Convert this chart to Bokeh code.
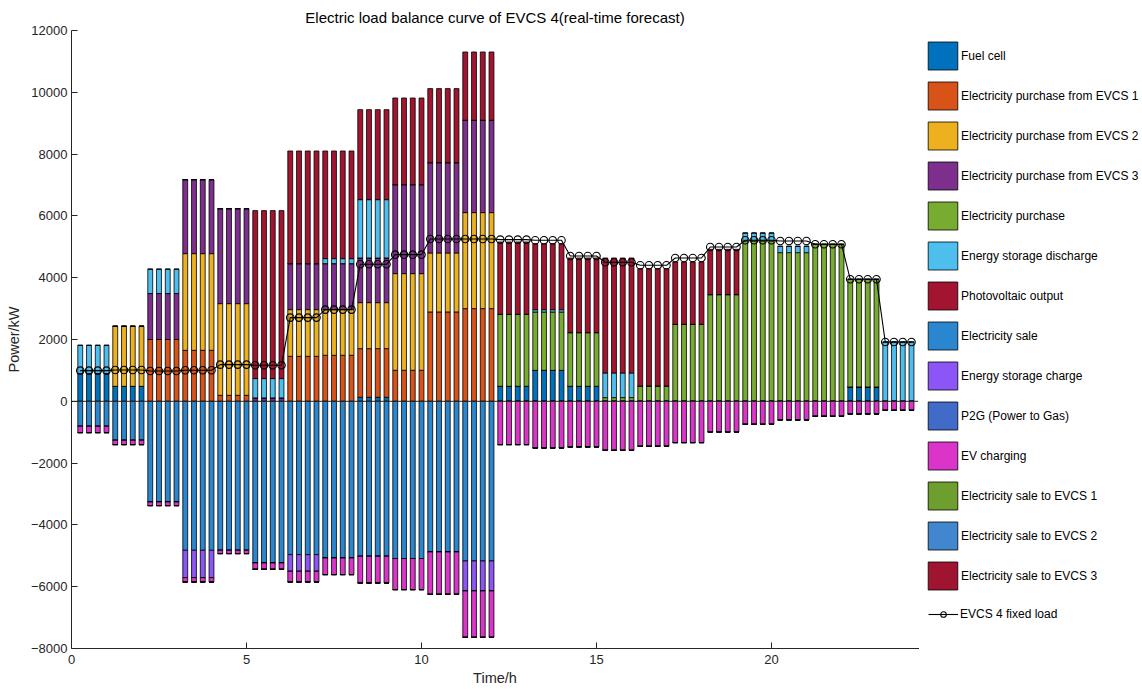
import numpy as np
from bokeh.plotting import figure
from bokeh.layouts import row
from bokeh.models import Legend, LegendItem, Span, FixedTicker, Range1d, ColumnDataSource
from bokeh.embed import file_html
from bokeh.resources import INLINE

# ---- data (hourly values; each hour is shown as 4 quarter-hour bars) ----
hours = list(range(1, 25))
fuel_cell        = [900, 485, 0, 0, 0, 0, 0, 0, 130, 0, 0, 0, 485, 1000, 485, 0, 0, 0, 0, 0, 0, 0, 463, 0]
buy_evcs1        = [0, 0, 2000, 1650, 194, 0, 1456, 1489, 1575, 1003, 2891, 3000, 0, 0, 0, 0, 0, 0, 0, 0, 0, 0, 0, 0]
buy_evcs2        = [0, 1942, 0, 3129, 2967, 0, 1511, 1478, 1488, 3129, 1909, 3106, 0, 0, 0, 0, 0, 0, 0, 0, 0, 0, 0, 0]
buy_evcs3        = [0, 0, 1488, 2395, 3074, 110, 1488, 1488, 1445, 2880, 2924, 2988, 0, 0, 0, 0, 0, 0, 0, 0, 0, 0, 0, 0]
grid_purchase    = [0, 0, 0, 0, 0, 0, 0, 0, 0, 0, 0, 0, 2331, 1888, 1737, 119, 496, 2492, 3452, 5188, 4811, 5081, 3485, 0]
storage_dis      = [912, 0, 788, 0, 0, 625, 0, 162, 1888, 0, 0, 0, 0, 76, 0, 797, 0, 0, 0, 259, 205, 0, 0, 1920]
pv_output        = [0, 0, 0, 0, 0, 5436, 3646, 3484, 2913, 2804, 2395, 2211, 2340, 2136, 2416, 3722, 3798, 2016, 1467, 0, 0, 0, 0, 0]
grid_sale        = [-809, -1262, -3258, -4822, -4822, -5232, -4961, -5071, -5016, -5088, -4876, -5168, 0, 0, 0, 0, 0, 0, 0, 0, 0, 0, 0, 0]
storage_chg      = [0, 0, 0, -884, 0, 0, -541, 0, 0, 0, 0, -970, 0, 0, 0, 0, 0, 0, 0, 0, 0, 0, 0, 0]
p2g              = [0] * 24
ev_charging      = [-205, -140, -118, -141, -107, -205, -345, -538, -863, -1007, -1370, -1500, -1402, -1510, -1477, -1586, -1456, -1337, -992, -744, -604, -485, -410, -291]
sale_evcs1       = [0] * 24
sale_evcs2       = [0] * 24
sale_evcs3       = [0] * 24
fixed_load       = [993, 1014, 981, 1003, 1187, 1165, 2708, 2967, 4434, 4746, 5253, 5253, 5232, 5210, 4703, 4500, 4401, 4638, 4994, 5210, 5188, 5081, 3948, 1920]

pos_series = [
    ("Fuel cell", "fuel", fuel_cell, "#0072BD"),
    ("Electricity purchase from EVCS 1", "ev1", buy_evcs1, "#D95319"),
    ("Electricity purchase from EVCS 2", "ev2", buy_evcs2, "#EDB120"),
    ("Electricity purchase from EVCS 3", "ev3", buy_evcs3, "#7E2F8E"),
    ("Electricity purchase", "buy", grid_purchase, "#77AC30"),
    ("Energy storage discharge", "dis", storage_dis, "#4DBEEE"),
    ("Photovoltaic output", "pv", pv_output, "#A2142F"),
]
neg_series = [
    ("Electricity sale", "sale", grid_sale, "#2A87CF"),
    ("Energy storage charge", "chg", storage_chg, "#8C55F5"),
    ("P2G (Power to Gas)", "p2g", p2g, "#406BC8"),
    ("EV charging", "evc", ev_charging, "#DA34C8"),
    ("Electricity sale to EVCS 1", "s1", sale_evcs1, "#6E9E2E"),
    ("Electricity sale to EVCS 2", "s2", sale_evcs2, "#4286CF"),
    ("Electricity sale to EVCS 3", "s3", sale_evcs3, "#9E1431"),
]

# quarter-hour time axis: each hourly value is drawn for its 4 quarter-hours
t = [h - 1 + q / 4 for h in hours for q in (1, 2, 3, 4)]
data = {"t": t, "load": list(np.repeat(fixed_load, 4))}
for _, key, vals, _ in pos_series + neg_series:
    data[key] = list(np.repeat(vals, 4))
src = ColumnDataSource(data)

FONT = "Liberation Sans"
p = figure(width=918, height=689, output_backend="svg", toolbar_location=None,
           min_border_left=71, min_border_right=0, min_border_bottom=41, min_border_top=30,
           title="Electric load balance curve of EVCS 4(real-time forecast)",
           x_range=Range1d(0, 24.2), y_range=Range1d(-8000, 12000))
p.outline_line_color = None
p.grid.visible = False
p.background_fill_color = "white"

p.title.align = "center"
p.title.text_font = FONT
p.title.text_font_size = "15px"
p.title.text_font_style = "normal"
p.title.text_color = "#000000"

for ax in (p.xaxis[0], p.yaxis[0]):
    ax.axis_line_color = "#262626"
    ax.major_tick_line_color = "#262626"
    ax.major_tick_in = 6
    ax.major_tick_out = 0
    ax.minor_tick_line_color = None
    ax.major_label_text_font = FONT
    ax.major_label_text_font_size = "13px"
    ax.major_label_text_color = "#262626"
    ax.axis_label_text_font = FONT
    ax.axis_label_text_font_size = "14.5px"
    ax.axis_label_text_font_style = "normal"
    ax.axis_label_text_color = "#262626"
p.xaxis.ticker = FixedTicker(ticks=[0, 5, 10, 15, 20])
p.yaxis.ticker = FixedTicker(ticks=list(range(-8000, 12001, 2000)))
p.xaxis.axis_label = "Time/h"
p.yaxis.axis_label = "Power/kW"
p.xaxis.major_label_standoff = 6
p.xaxis.axis_label_standoff = 3
p.yaxis.major_label_standoff = 4
p.yaxis.axis_label_standoff = 6

W = 0.14
pos_r = p.vbar_stack([k for _, k, _, _ in pos_series], x="t", width=W, source=src,
                     color=[c for *_, c in pos_series], line_color="black", line_width=0.8)
neg_r = p.vbar_stack([k for _, k, _, _ in neg_series], x="t", width=W, source=src,
                     color=[c for *_, c in neg_series], line_color="black", line_width=0.8)

p.add_layout(Span(location=0, dimension="width", line_color="#262626", line_width=1))

ln = p.line("t", "load", source=src, line_color="black", line_width=1.1)
sc = p.scatter("t", "load", source=src, marker="circle", size=7.5, line_color="black",
               fill_alpha=0, line_width=1.1)

# ---- legend panel (separate figure to the right, keyed to the same styles) ----
lf = figure(width=224, height=689, output_backend="svg", toolbar_location=None,
            min_border=0, x_axis_type=None, y_axis_type=None,
            x_range=Range1d(0, 1), y_range=Range1d(0, 1))
lf.outline_line_color = None
lf.grid.visible = False

items = []
for label, key, vals, col in pos_series + neg_series:
    # key glyph only: one off-screen dummy bar so the legend can draw its swatch
    r = lf.vbar(x=[-10], top=[-10], width=0.1, fill_color=col, line_color="black", line_width=0.8)
    items.append(LegendItem(label=label, renderers=[r]))
lr = lf.line(x=[-10, -9], y=[-10, -10], line_color="black", line_width=1.1)
ls = lf.scatter(x=[-10], y=[-10], marker="circle", size=6, line_color="black", fill_alpha=0, line_width=1.1)

legend = Legend(items=items, location=(6, 55), glyph_width=37, glyph_height=35, spacing=5,
                label_standoff=0, padding=0, margin=0, border_line_color=None,
                background_fill_alpha=0, label_text_font=FONT, label_text_font_size="12px",
                label_text_color="#000000", label_height=20)
lf.add_layout(legend, "center")

legend2 = Legend(items=[LegendItem(label="EVCS 4 fixed load", renderers=[lr, ls])],
                 location=(10, 24), glyph_width=30, glyph_height=14, spacing=0,
                 label_standoff=2, padding=0, margin=0, border_line_color=None,
                 background_fill_alpha=0, label_text_font=FONT, label_text_font_size="12px",
                 label_text_color="#000000", label_height=20)
lf.add_layout(legend2, "center")

layout = row(p, lf, spacing=0)
open("out.html", "w").write(file_html(layout, INLINE))
